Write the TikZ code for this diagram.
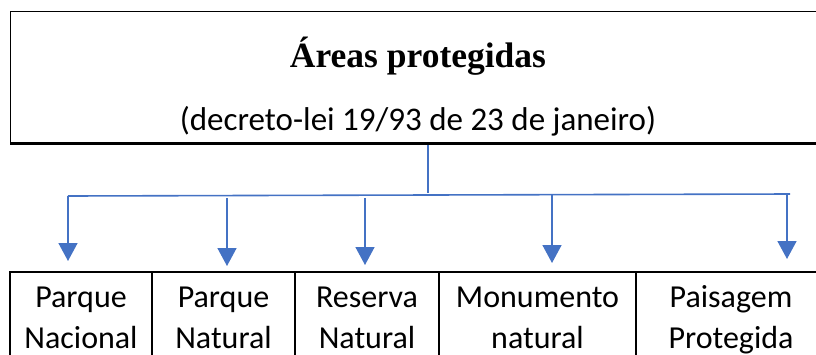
\documentclass[tikz,border=0pt]{standalone}
\usepackage{fontspec}
\setmainfont{Liberation Serif}
\newfontfamily\calibri{Carlito}
\usetikzlibrary{arrows.meta}
\definecolor{azul}{RGB}{68,114,196}

\begin{document}
\begin{tikzpicture}[x=1pt,y=-1pt,
  ligacao/.style={azul,line width=1.6pt},
  seta/.style={ligacao,-{Triangle[width=19pt,length=18pt]}},
  grade/.style={line width=2.4pt},
  celula/.style={anchor=base,align=center,font=\calibri\fontsize{32}{41}\selectfont}]
  \clip (0,0) rectangle (816,354);
  % caixa de topo
  \node(caixa) [draw,line width=1.4pt,anchor=north west,inner sep=0pt,
                minimum width=830pt,minimum height=131pt] at (10,11) {};
  \draw[line width=3pt] (caixa.south west) -- (caixa.south east);
  \node(titulo)  [anchor=base,font=\bfseries\fontsize{35.5}{40}\selectfont] at (418,67) {Áreas protegidas};
  \node(decreto) [anchor=base,font=\calibri\fontsize{33}{38}\selectfont]    at (418,130) {(decreto-lei 19/93 de 23 de janeiro)};
  % ramos
  \coordinate(ramo) at (428,193);
  \coordinate(a1) at (68,196);  \coordinate(s1) at (68,261);
  \coordinate(a2) at (227,198); \coordinate(s2) at (227,266);
  \coordinate(a3) at (365,198); \coordinate(s3) at (365,265);
  \coordinate(a4) at (552,195); \coordinate(s4) at (552,263);
  \coordinate(a5) at (787,194); \coordinate(s5) at (787,259);
  \draw[ligacao] ([yshift=-2pt]caixa.south -| ramo) -- (ramo);
  \draw[ligacao] (a1) -- (790,194);
  \draw[seta] (a1) -- (s1);
  \draw[seta] (a2) -- (s2);
  \draw[seta] (a3) -- (s3);
  \draw[seta] (a4) -- (s4);
  \draw[seta] (a5) -- (s5);
  % tabela
  \draw[grade] (10,272) rectangle (152,370);
  \draw[grade] (152,272) rectangle (295,370);
  \draw[grade] (295,272) rectangle (439,370);
  \draw[grade] (439,272) rectangle (636,370);
  \draw[grade] (636,272) rectangle (830,370);
  \node(nacional)  [celula] at (81,348)    {Parque\\Nacional};
  \node(natural)   [celula] at (223.5,348) {Parque\\Natural};
  \node(reserva)   [celula] at (367,348)   {Reserva\\Natural};
  \node(monumento) [celula] at (537.5,348) {Monumento\\natural};
  \node(paisagem)  [celula] at (731,348)   {Paisagem\\Protegida};
\end{tikzpicture}
\end{document}
